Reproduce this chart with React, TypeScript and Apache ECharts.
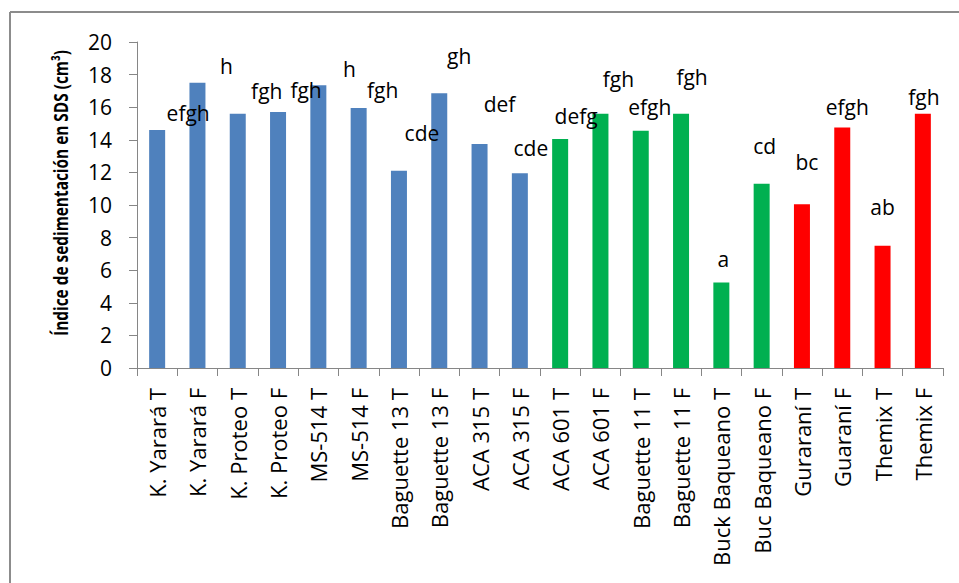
import React, { useEffect, useRef } from "react";
import * as echarts from "echarts";

const categories = [
  "K. Yarará T", "K. Yarará F", "K. Proteo T", "K. Proteo F", "MS-514 T", "MS-514 F",
  "Baguette 13 T", "Baguette 13 F", "ACA 315 T", "ACA 315 F", "ACA 601 T", "ACA 601 F",
  "Baguette 11 T", "Baguette 11 F", "Buck Baqueano T", "Buc Baqueano F", "Guraraní T",
  "Guaraní F", "Themix T", "Themix F",
];
const values = [14.6, 17.5, 15.6, 15.7, 17.35, 15.95, 12.1, 16.85, 13.75, 11.95, 14.05, 15.6, 14.55, 15.6, 5.25, 11.3, 10.05, 14.75, 7.5, 15.6];
const letters = ["efgh", "h", "fgh", "fgh", "h", "fgh", "cde", "gh", "def", "cde", "defg", "fgh", "efgh", "fgh", "a", "cd", "bc", "efgh", "ab", "fgh"];
const groups = [0, 0, 0, 0, 0, 0, 0, 0, 0, 0, 1, 1, 1, 1, 1, 1, 2, 2, 2, 2];
const yTicks = { min: 0, max: 20, interval: 2 };
const yName = "Índice de sedimentación en SDS (cm³)";

// layout only: label offsets relative to each bar's top centre (px)
const labelOffsets: [number, number][] = [
  [31, -17], [29, -17], [29, -23], [28, -22], [31, -16], [24, -18], [23, -38], [20, -37],
  [20, -40], [11, -25], [16, -23], [18, -35], [9, -24], [11, -37], [2, -23], [3, -38],
  [5, -42], [5, -21], [0, -39], [1, -17],
];
const palette = ["#4F81BD", "#00B050", "#FF0000"];
const FONT = "'Open Sans', 'Noto Sans', sans-serif";

export default function App() {
  const ref = useRef<HTMLDivElement>(null);
  useEffect(() => {
    if (!ref.current) return;
    const chart = echarts.init(ref.current, undefined, { renderer: "svg" });
    chart.setOption({
      animation: false,
      backgroundColor: "#ffffff",
      textStyle: { fontFamily: FONT },
      grid: { left: 137, right: 16, top: 42, bottom: 215, containLabel: false },
      xAxis: {
        type: "category",
        data: categories,
        axisLine: { lineStyle: { color: "#868686", width: 1 } },
        axisTick: { show: true, length: 8, alignWithLabel: false, lineStyle: { color: "#868686" } },
        axisLabel: { interval: 0, rotate: 90, margin: 20, fontSize: 22, color: "#000", fontFamily: FONT },
        splitLine: { show: false },
      },
      yAxis: {
        type: "value",
        min: yTicks.min,
        max: yTicks.max,
        interval: yTicks.interval,
        axisLine: { show: true, lineStyle: { color: "#868686", width: 1 } },
        axisTick: { show: true, length: 8, lineStyle: { color: "#868686" } },
        axisLabel: { margin: 25, fontSize: 21, color: "#000", fontFamily: FONT },
        splitLine: { show: false },
      },
      series: [
        {
          type: "bar",
          barWidth: 16,
          data: values.map((v, i) => ({
            value: v,
            itemStyle: { color: palette[groups[i]] },
            label: {
              show: true,
              formatter: letters[i],
              position: ["50%", 0],
              align: "center",
              verticalAlign: "middle",
              offset: labelOffsets[i],
              fontSize: 21,
              color: "#000",
              fontFamily: FONT,
            },
          })),
        },
      ],
      graphic: [
        { type: "line", shape: { x1: 10, y1: 12, x2: 959, y2: 12 }, style: { stroke: "#8c8c8c", lineWidth: 2 } },
        { type: "line", shape: { x1: 10, y1: 12, x2: 10, y2: 583 }, style: { stroke: "#8c8c8c", lineWidth: 2 } },
        {
          type: "text",
          x: 60,
          y: 193,
          rotation: Math.PI / 2,
          scaleX: 0.77,
          style: {
            text: yName,
            fontSize: 20,
            fontWeight: "bold",
            fontFamily: FONT,
            fill: "#000",
            textAlign: "center",
            textVerticalAlign: "middle",
          },
        },
      ],
    });
    return () => chart.dispose();
  }, []);
  return <div ref={ref} style={{ position: "fixed", left: 0, top: 0, width: 959, height: 583 }} />;
}
